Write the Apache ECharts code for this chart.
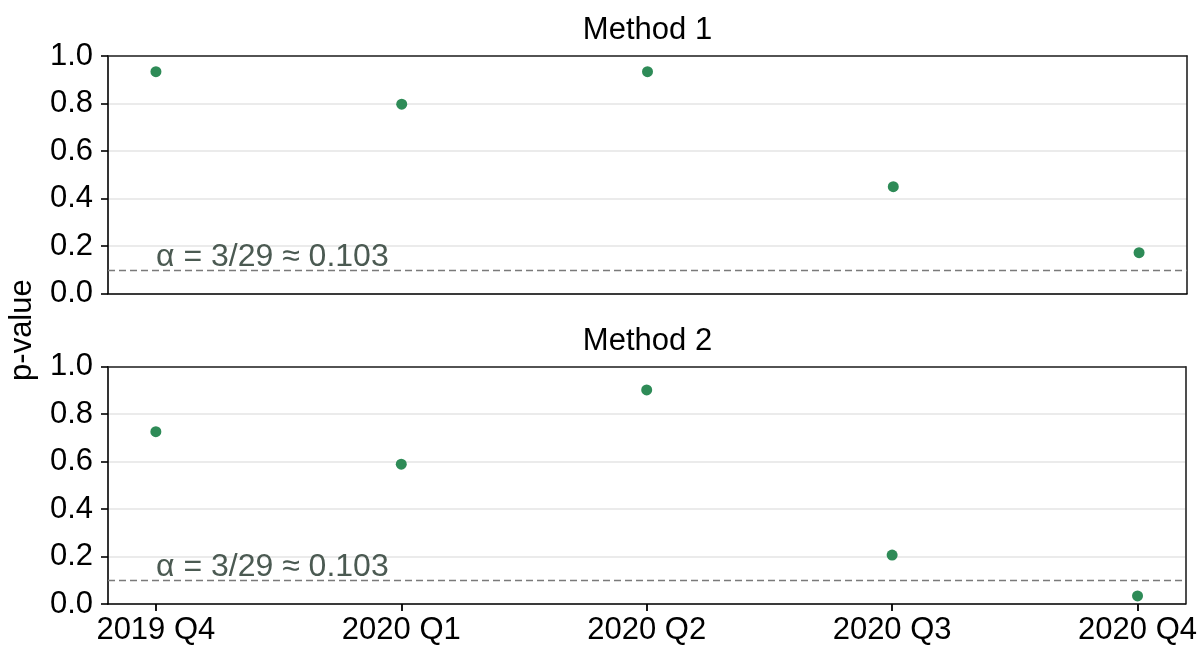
<!DOCTYPE html>
<html>
<head>
<meta charset="utf-8">
<script src="https://cdn.jsdelivr.net/npm/echarts@6/dist/echarts.min.js"></script>
<style>
  html, body { margin: 0; padding: 0; background: #fff; }
  #chart { width: 1200px; height: 646px; }
</style>
</head>
<body>
<div id="chart"></div>
<script>
// Quarters on the x axis
const quarters = ['2019 Q4', '2020 Q1', '2020 Q2', '2020 Q3', '2020 Q4'];
// p-values per method
const method1 = [0.934, 0.797, 0.934, 0.450, 0.172];
const method2 = [0.726, 0.589, 0.902, 0.206, 0.034];
const panelTitles = ['Method 1', 'Method 2'];
// significance threshold
const alpha = 3 / 29;
const alphaLabel = 'α = 3/29 ≈ 0.103';

const FONT = '"Liberation Sans", Arial, sans-serif';
const plotLeft = 108, plotRight = 13, plotH = 237.5;
const tops = [56, 366.7];
const plotW = 1200 - plotLeft - plotRight;
const pointColor = '#2e8b57';
const TICK_POS = [0, 1, 2, 3, 4];

const chart = echarts.init(document.getElementById('chart'), null, { renderer: 'canvas' });

const grids = tops.map(t => ({
  left: plotLeft, top: t, width: plotW, height: plotH,
  show: false, containLabel: false
}));

const xRange = { min: -0.195, max: 4.195 };
const xAxes = [];
[0, 1].forEach(i => {
  // bottom axis of each panel
  xAxes.push({
    type: 'value', gridIndex: i, position: 'bottom', ...xRange,
    splitLine: { show: false },
    axisLine: { show: true, onZero: false, lineStyle: { color: '#000', width: 1.6 } },
    axisTick: { show: i === 1, customValues: TICK_POS, length: 7, inside: false, lineStyle: { color: '#000', width: 1.8 } },
    axisLabel: {
      show: i === 1, customValues: TICK_POS, margin: 11,
      fontFamily: FONT, fontSize: 31, color: '#000',
      formatter: v => quarters[Math.round(v)]
    },
    z: 3
  });
  // top frame edge
  xAxes.push({
    type: 'value', gridIndex: i, position: 'top', ...xRange,
    splitLine: { show: false }, axisTick: { show: false }, axisLabel: { show: false },
    axisLine: { show: true, onZero: false, lineStyle: { color: '#222', width: 1.6 } },
    z: 3
  });
});

const yAxes = [];
[0, 1].forEach(i => {
  yAxes.push({
    type: 'value', gridIndex: i, position: 'left', min: 0, max: 1, interval: 0.2,
    axisLine: { show: true, onZero: false, lineStyle: { color: '#000', width: 1.6 } },
    axisTick: { show: true, length: 7, lineStyle: { color: '#000', width: 1.6 } },
    axisLabel: { fontFamily: FONT, fontSize: 31, color: '#000', margin: 15, formatter: v => v.toFixed(1) },
    splitLine: { show: true, lineStyle: { color: '#ebebeb', width: 2 } },
    z: 3
  });
  // right frame edge
  yAxes.push({
    type: 'value', gridIndex: i, position: 'right', min: 0, max: 1, interval: 0.2,
    axisLine: { show: true, onZero: false, lineStyle: { color: '#222', width: 1.6 } },
    axisTick: { show: false }, axisLabel: { show: false }, splitLine: { show: false },
    z: 3
  });
});

const series = [method1, method2].map((vals, i) => ({
  type: 'scatter', xAxisIndex: i * 2, yAxisIndex: i * 2,
  data: vals.map((v, k) => [k, v]),
  symbolSize: 11,
  itemStyle: { color: pointColor, opacity: 1 },
  z: 5,
  markLine: {
    silent: true, symbol: 'none',
    lineStyle: { color: '#7a7a7a', type: [7, 4], width: 1.3 },
    label: {
      show: true, position: 'insideStartTop', formatter: alphaLabel,
      fontFamily: FONT, fontSize: 32, color: '#4b5a52', distance: [48, -3]
    },
    data: [{ yAxis: alpha }]
  }
}));

const graphic = [
  ...panelTitles.map((t, i) => ({
    type: 'text', x: plotLeft + plotW / 2, y: tops[i] - 10,
    style: { text: t, fontFamily: FONT, fontSize: 31, fill: '#000', textAlign: 'center', textVerticalAlign: 'bottom' }
  })),
  {
    type: 'text', x: 22, y: (tops[0] + tops[1] + plotH) / 2, rotation: Math.PI / 2,
    style: { text: 'p-value', fontFamily: FONT, fontSize: 31, fill: '#000', textAlign: 'center', textVerticalAlign: 'middle' }
  }
];

chart.setOption({
  animation: false,
  backgroundColor: '#fff',
  grid: grids,
  xAxis: xAxes,
  yAxis: yAxes,
  series: series,
  graphic: graphic
});
</script>
</body>
</html>
